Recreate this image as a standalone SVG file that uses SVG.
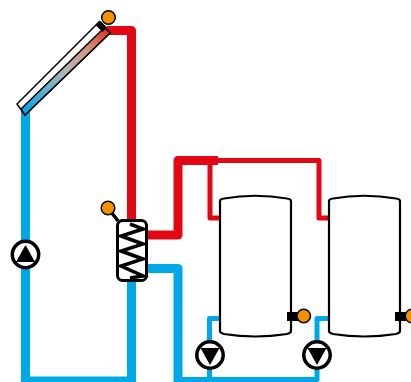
<svg xmlns="http://www.w3.org/2000/svg" width="411" height="382" viewBox="0 0 411 382">
<style>
.p{fill:none;stroke-linejoin:round}
.r{stroke:#e30613}.b{stroke:#00a8e8}
.k{stroke-width:9}.n{stroke-width:5}
.o{fill:#f39200;stroke:#000;stroke-width:1.5}
.t{fill:#fff;stroke:#000;stroke-width:2.2}
.pump{fill:#fff;stroke:#000;stroke-width:3.5}
</style>
<defs>
<linearGradient id="g" gradientUnits="userSpaceOnUse" x1="25" y1="112" x2="107" y2="30">
<stop offset="0" stop-color="#00a8e8"/><stop offset=".5" stop-color="#b5b5b5"/><stop offset=".75" stop-color="#cf9a88"/><stop offset="1" stop-color="#e6331f"/>
</linearGradient>
</defs>
<g id="connectors">
<path class="p b k" d="M25.500 105V381H131.500V280"/>
<path class="p r k" d="M107 30.500H131.500V225"/>
<path class="p r k" d="M146 235H178V160.500H218"/>
<path class="p b k" d="M146 268.500H178V382"/>
<path class="p r n" d="M218 160.500H319V218H330M210 160.500V218H220"/>
<path class="p b n" d="M178 379.500H317V318.500H329M209.500 379.500V318.500H220"/>
</g>
<g id="collector">
<path fill="#fff" stroke="#000" stroke-width="1.500" d="M17 104 99 22 110 33 25 115Z"/>
<path fill="url(#g)" stroke="#000" stroke-width="1.500" d="M21 109 104.500 27.500 110 33 25 115Z"/>
<path fill="#000" d="M95.500 26 100 21.500 107 28.500 102.500 33Z" transform="translate(0 -1)"/>
<circle class="o" cx="108.500" cy="17.500" r="6.800"/>
</g>
<g id="pump1"><circle class="pump" cx="25.500" cy="254.500" r="13.200"/><path d="M25.500 245 35 262H16Z"/></g>
<g id="exchanger">
<path stroke="#000" stroke-width="3.500" d="M108 208 118 221"/>
<circle class="o" cx="108" cy="208" r="6.800"/>
<rect x="117.500" y="220.500" width="29" height="60" rx="5" fill="#fff" stroke="#000" stroke-width="3"/>
<path fill="none" stroke="#000" stroke-width="3.500" d="M130 224 143 229 121 236 143 244 121 251 143 259 121 266 143 276 130 278"/>
</g>
<g id="tank1">
<path class="t" d="M220 201Q220 199 224 198.500Q255 193 287 198.500Q291 199 291 201V331Q291 333 287 334Q255 339 224 334Q220 333 220 331Z"/>
<rect x="287" y="312" width="11" height="9"/><circle class="o" cx="303.700" cy="316" r="6.800"/>
</g>
<g id="tank2">
<path class="t" d="M329 201Q329 199 333 198.500Q364 193 396 198.500Q400 199 400 201V331Q400 333 396 334Q364 339 333 334Q329 333 329 331Z"/>
<rect x="395" y="312" width="11" height="9"/><circle class="o" cx="412" cy="316" r="6.800"/>
</g>
<g id="pump2"><circle class="pump" cx="210" cy="355" r="13.200"/><path d="M210 365 200.500 348H219.500Z"/></g>
<g id="pump3"><circle class="pump" cx="317" cy="355" r="13.200"/><path d="M317 365 307.500 348H326.500Z"/></g>
</svg>
